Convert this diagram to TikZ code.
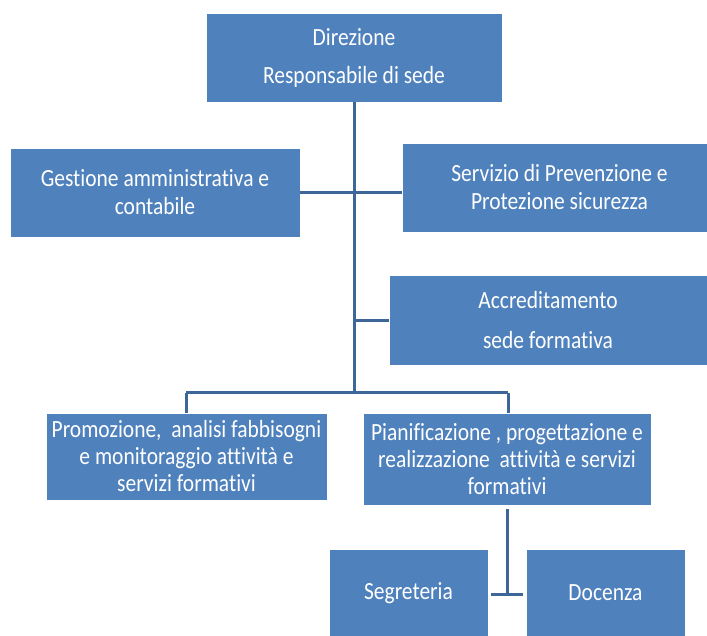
\documentclass[tikz,border=0pt]{standalone}
\usepackage{fontspec}
\setmainfont{Carlito}[Ligatures=NoCommon,FakeStretch=0.87]
\definecolor{boxblue}{HTML}{4F81BD}
\definecolor{lineblue}{HTML}{3D6799}
\begin{document}
\begin{tikzpicture}[x=1pt,y=1pt,
  box/.style={fill=boxblue,draw=white,line width=0.6pt,text=white,align=center,font=\fontsize{24.7}{27}\selectfont,inner sep=0pt},
  conn/.style={draw=lineblue,line width=3pt}]
\useasboundingbox (0,0) rectangle (707,635);
\begin{scope}
\clip (0,0) rectangle (707,635);
\node[box,minimum width=296,minimum height=89,font=\fontsize{24.7}{38}\selectfont] (dir) at (354,577.5) {Direzione\\Responsabile di sede};
\node[box,minimum width=290,minimum height=89,font=\fontsize{24.7}{28}\selectfont] (ges) at (155,442.5) {Gestione amministrativa e\\contabile};
\node[box,minimum width=305,minimum height=89,font=\fontsize{24.7}{28}\selectfont] (ser) at (554.5,447.5) {\hspace*{10pt}Servizio di Prevenzione e\\\hspace*{10pt}Protezione sicurezza};
\node[box,minimum width=318,minimum height=90,font=\fontsize{24.7}{40}\selectfont] (acc) at (548,315) {Accreditamento\\sede formativa};
\node[box,minimum width=281,minimum height=87] (pro) at (186.5,178.5) {Promozione,\ \ analisi fabbisogni\\e monitoraggio attività e\\servizi formativi};
\node[box,minimum width=288,minimum height=92] (pia) at (507,176) {Pianificazione , progettazione e\\realizzazione\ \ attività e servizi\\formativi};
\node[box,minimum width=159,minimum height=88] (seg) at (408.5,42) {Segreteria};
\node[box,minimum width=159,minimum height=88] (doc) at (605.5,42) {Docenza};
\coordinate (bus) at (354,242);
\coordinate (busl) at (186,242);
\coordinate (busr) at (508,242);
\coordinate (tacc) at (354,314);
\coordinate (low) at (507,41);
\coordinate (lowl) at (491,41);
\coordinate (lowr) at (523,41);
\draw[conn] (dir.south) -- (bus);
\draw[conn] (ges.east) -- (ges.east -| ser.west);
\draw[conn] (tacc) -- (tacc -| acc.west);
\draw[conn] (busl) -- (busr);
\draw[conn] (busl) -- (busl |- pro.north);
\draw[conn] (busr) -- (busr |- pia.north);
\draw[conn] ([yshift=-4pt]pia.south) -- (low);
\draw[conn] (lowl) -- (lowr);
\end{scope}
\end{tikzpicture}
\end{document}
